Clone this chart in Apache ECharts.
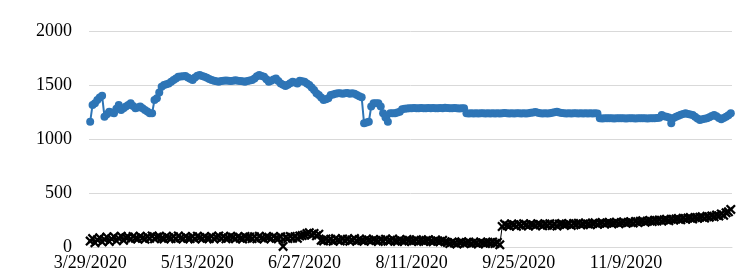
<!DOCTYPE html>
<html>
<head>
<meta charset="utf-8">
<script src="https://cdn.jsdelivr.net/npm/echarts@6/dist/echarts.min.js"></script>
<style>
  html, body { margin: 0; padding: 0; background: #fff; }
  #chart { width: 755px; height: 275px; }
</style>
</head>
<body>
<div id="chart"></div>
<script>
// daily categories start at 3/29/2020
const startDate = [2020, 3, 29];
const dayCount = 270;

// blue series (circles)
const blueValues = [
  1160,1315,1330,1360,1385,1400,1207,1230,1253,1245,
  1238,1280,1315,1269,1285,1300,1315,1330,1305,1284,
  1292,1300,1285,1269,1255,1238,1238,1361,1377,1430,
  1484,1500,1508,1515,1530,1546,1560,1576,1578,1580,
  1583,1570,1558,1546,1570,1585,1592,1584,1576,1566,
  1556,1546,1540,1535,1530,1538,1540,1542,1540,1538,
  1540,1545,1540,1538,1535,1530,1536,1541,1546,1560,
  1580,1592,1584,1576,1553,1530,1540,1550,1561,1538,
  1515,1502,1490,1503,1517,1530,1522,1515,1539,1535,
  1530,1515,1500,1477,1454,1423,1407,1384,1361,1369,
  1377,1407,1412,1418,1423,1423,1420,1423,1425,1420,
  1423,1418,1407,1396,1386,1146,1153,1160,1300,1330,
  1332,1330,1300,1238,1200,1160,1238,1238,1238,1245,
  1253,1275,1280,1282,1284,1285,1286,1284,1285,1287,
  1285,1284,1286,1285,1288,1285,1284,1286,1285,1290,
  1286,1285,1284,1286,1285,1283,1285,1284,1238,1236,
  1238,1237,1238,1236,1238,1239,1237,1238,1236,1238,
  1237,1238,1236,1238,1240,1238,1237,1238,1236,1238,
  1239,1237,1238,1236,1238,1242,1246,1250,1244,1238,
  1237,1238,1236,1238,1244,1248,1252,1246,1240,1238,
  1237,1238,1236,1238,1239,1237,1238,1236,1238,1237,
  1238,1236,1238,1235,1192,1190,1192,1191,1193,1192,
  1190,1192,1191,1192,1193,1190,1192,1191,1192,1190,
  1192,1191,1193,1192,1190,1192,1191,1192,1194,1196,
  1222,1210,1205,1200,1146,1195,1207,1215,1225,1232,
  1238,1232,1227,1222,1205,1190,1176,1182,1187,1192,
  1202,1212,1222,1210,1195,1183,1195,1207,1220,1238
];

// black series (crosses)
const blackValues = [
  55,78,40,66,85,48,70,92,52,76,
  96,58,80,100,62,86,92,74,98,80,
  76,100,84,72,96,80,102,76,92,98,
  82,74,100,86,78,96,76,102,84,74,
  98,82,78,96,74,100,88,76,96,82,
  78,98,74,90,102,80,96,76,84,100,
  90,76,96,80,74,98,84,92,78,96,
  76,100,84,74,96,90,78,98,82,76,
  96,5,90,78,98,82,96,80,102,106,
  112,124,132,110,126,104,118,62,56,74,
  60,72,54,78,64,56,74,60,72,54,
  64,78,56,70,60,54,74,64,56,70,
  60,52,68,56,72,54,62,74,56,52,
  66,56,54,70,62,50,58,68,54,62,
  52,60,68,54,48,64,56,52,62,48,
  42,32,46,36,28,42,48,32,38,46,
  32,44,36,28,46,38,32,44,36,46,
  32,42,20,190,212,200,194,214,206,192,
  210,198,216,204,194,212,206,196,216,208,
  196,212,202,216,198,210,194,212,218,204,
  208,216,200,218,210,220,204,214,222,212,
  206,218,224,210,220,226,212,222,228,216,
  222,230,216,226,232,220,228,234,222,236,
  226,238,242,230,238,246,236,248,240,250,
  240,252,256,244,258,250,260,264,252,266,
  256,268,272,260,274,266,276,280,268,284,
  276,288,280,296,288,306,294,316,326,348
];

const yTicks = [0, 500, 1000, 1500, 2000];

const categories = [];
for (let i = 0; i < dayCount; i++) {
  const d = new Date(startDate[0], startDate[1] - 1, startDate[2] + i);
  categories.push((d.getMonth() + 1) + '/' + d.getDate() + '/' + d.getFullYear());
}

// filled x shape, a bit heavier than a hairline cross
const crossPath = 'path://M0,1.6L1.6,0L5,3.4L8.4,0L10,1.6L6.6,5L10,8.4L8.4,10L5,6.6L1.6,10L0,8.4L3.4,5Z';
const labelFont = {fontFamily: 'Liberation Serif', fontSize: 18, color: '#000'};

const chart = echarts.init(document.getElementById('chart'));
chart.setOption({
  animation: false,
  grid: {left: 89, right: 23, top: 31, bottom: 28},
  xAxis: {
    type: 'category',
    data: categories,
    boundaryGap: true,
    axisLine: {lineStyle: {color: '#d9d9d9', width: 1}},
    axisTick: {show: false},
    axisLabel: Object.assign({interval: 44, margin: 7}, labelFont)
  },
  yAxis: {
    type: 'value',
    min: yTicks[0],
    max: yTicks[yTicks.length - 1],
    interval: 500,
    axisLine: {show: false},
    axisTick: {show: false},
    splitLine: {lineStyle: {color: '#d9d9d9', width: 1}},
    axisLabel: Object.assign({margin: 17, formatter: v => String(v)}, labelFont)
  },
  series: [
    {
      type: 'line',
      data: blueValues,
      symbol: 'circle',
      symbolSize: 8,
      showAllSymbol: true,
      lineStyle: {color: '#2e75b6', width: 2},
      itemStyle: {color: '#2e75b6'}
    },
    {
      type: 'line',
      data: blackValues,
      symbol: crossPath,
      symbolSize: 10,
      showAllSymbol: true,
      lineStyle: {color: '#000', width: 1},
      itemStyle: {color: '#000'}
    }
  ]
});
</script>
</body>
</html>
